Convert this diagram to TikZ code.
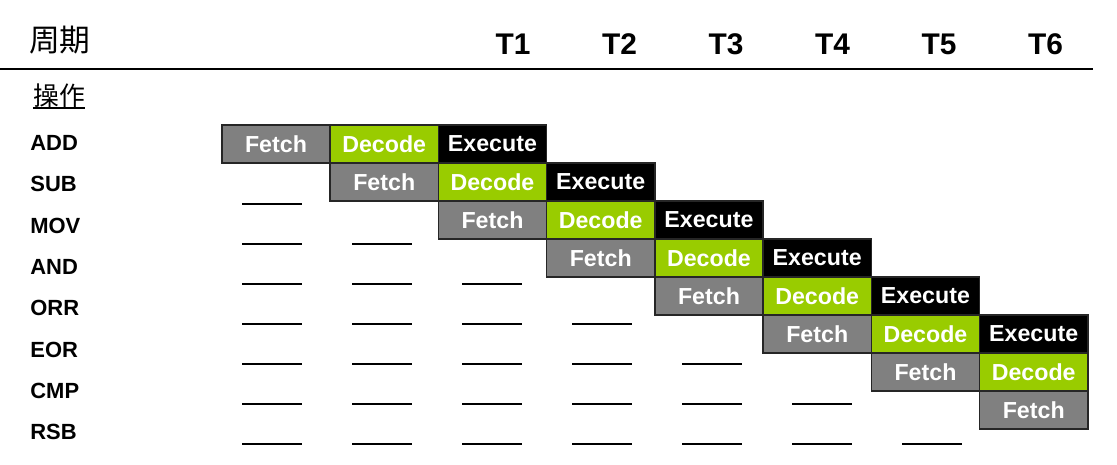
\documentclass[tikz,border=0pt]{standalone}
\usepackage{fontspec}
\setmainfont{Liberation Sans}
\newfontfamily\cjkfont{Noto Sans CJK SC}
\usepackage{xcolor}
\usetikzlibrary{positioning}
\definecolor{stagegray}{HTML}{808080}
\definecolor{stagegreen}{HTML}{99CC00}
\tikzset{
    stage/.style={draw=black!85, line width=0.9pt, outer sep=0pt, inner sep=0pt,
        minimum width=2.165cm, minimum height=0.76cm,
        text=white, font=\fontsize{13.2}{15}\selectfont\bfseries}, % one pipeline stage
    fetch/.style={stage, fill=stagegray},
    decode/.style={stage, fill=stagegreen},
    execute/.style={stage, fill=black},
    oplabel/.style={anchor=west, inner sep=0pt, font=\fontsize{12.5}{14}\selectfont\bfseries}, % instruction names
    cyclelabel/.style={anchor=base, inner sep=0pt, font=\fontsize{17}{19}\selectfont\bfseries}, % T1 ... T6
    blank/.style={line width=1.1pt}, % empty slots
}

\begin{document}
\begin{tikzpicture}[x=0.02cm, y=-0.02cm]
    \useasboundingbox (0,0) rectangle (1117,464);

    % Kopfzeile
    \node[inner sep=0pt, font=\cjkfont\fontsize{17.5}{20}\selectfont] (zhouqi) at (60,40) {周期};
    \foreach \k in {1,...,6}
        \node[cyclelabel] (t\k) at (513+106.5*\k-106.5, 54) {T\k};
    \draw[line width=1.1pt] (0,69) -- (1093,69);

    % Spaltentitel
    \node[inner sep=0pt, font=\cjkfont\fontsize{14.7}{17}\selectfont] (caozuo) at (59,96) {操作};
    \draw[line width=0.9pt] (caozuo.south west) -- (caozuo.south east);

    % Befehle und Pipeline-Stufen
    \foreach \op [count=\r from 0] in {ADD,SUB,MOV,AND,ORR,EOR,CMP,RSB} {
        \node[oplabel] (op\r) at (30, 143+41.3*\r) {\op};
        \node[fetch] (f\r) at (276+108.25*\r, 144+38*\r) {Fetch};
        \ifnum\r<7 \node[decode, right=0pt of f\r] (d\r) {Decode}; \fi
        \ifnum\r<6 \node[execute, right=0pt of d\r] (e\r) {Execute}; \fi
    }

    % leere Felder
    \foreach \r in {1,...,7}
        \foreach \k in {1,...,\r}
            \draw[blank] (132+110*\k, 164+40*\r) -- ++(60,0);
\end{tikzpicture}
\end{document}
